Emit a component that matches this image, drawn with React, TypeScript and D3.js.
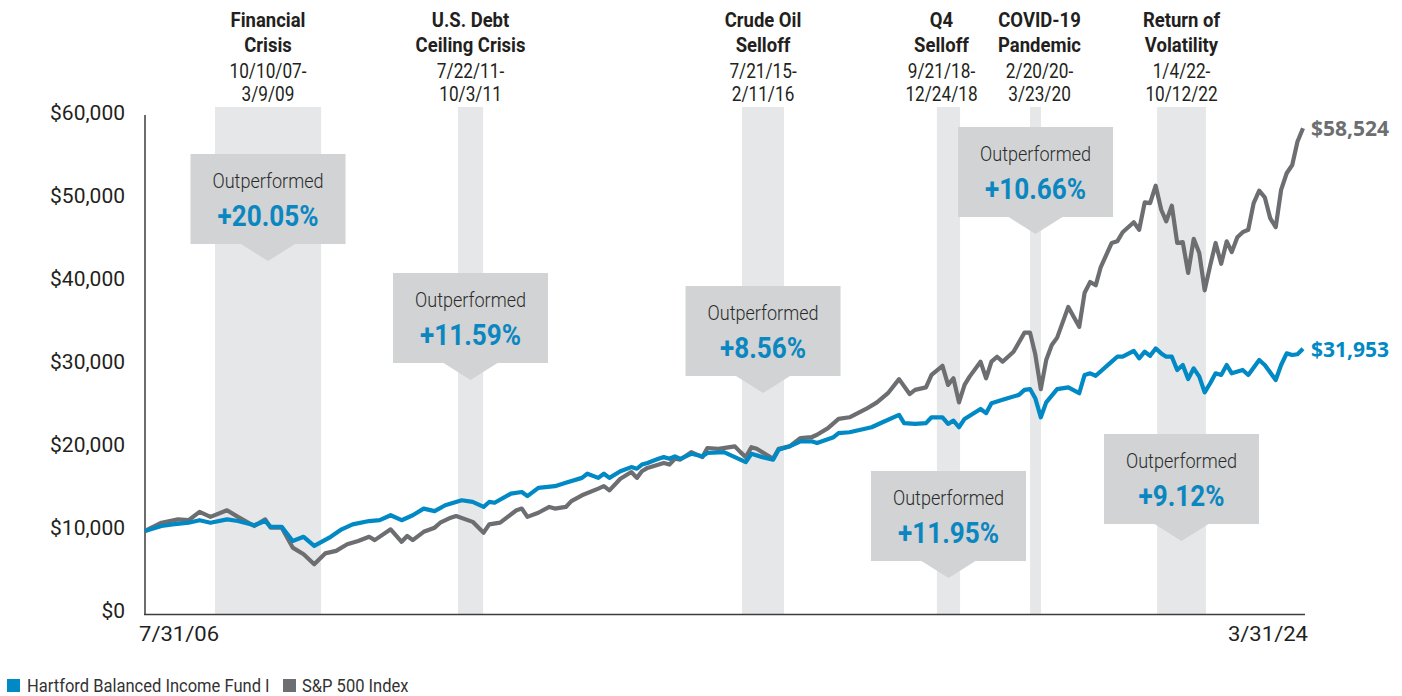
import * as d3 from "d3";
import type { ReactNode } from "react";

// month-end values of a $10,000 investment
const fundSeries: [string, number][] = [
  ["2006-07", 10000], ["2006-10", 10600], ["2006-12", 10800], ["2007-03", 11000],
  ["2007-05", 11300], ["2007-07", 11000], ["2007-10", 11400], ["2007-12", 11200],
  ["2008-03", 10700], ["2008-05", 11200], ["2008-06", 10500], ["2008-08", 10500],
  ["2008-10", 8800], ["2008-12", 9300], ["2009-02", 8200], ["2009-05", 9300],
  ["2009-07", 10200], ["2009-09", 10800], ["2009-12", 11200], ["2010-02", 11300],
  ["2010-04", 11900], ["2010-06", 11300], ["2010-08", 11900], ["2010-10", 12700],
  ["2010-12", 12400], ["2011-02", 13100], ["2011-05", 13700], ["2011-07", 13500],
  ["2011-09", 12900], ["2011-10", 13500], ["2011-11", 13400], ["2012-02", 14500],
  ["2012-04", 14700], ["2012-05", 14200], ["2012-07", 15200], ["2012-10", 15400],
  ["2012-12", 15800], ["2013-03", 16400], ["2013-04", 16900], ["2013-06", 16400],
  ["2013-07", 16900], ["2013-08", 16400], ["2013-10", 17200], ["2013-12", 17700],
  ["2014-01", 17500], ["2014-02", 18000], ["2014-03", 18200], ["2014-05", 18700],
  ["2014-06", 18900], ["2014-07", 18700], ["2014-08", 19000], ["2014-09", 18700],
  ["2014-11", 19300], ["2015-01", 19000], ["2015-02", 19400], ["2015-05", 19500],
  ["2015-07", 18900], ["2015-09", 18300], ["2015-10", 19300], ["2015-12", 18900],
  ["2016-02", 18600], ["2016-03", 19800], ["2016-05", 20200], ["2016-07", 20800],
  ["2016-09", 20800], ["2016-10", 20600], ["2017-01", 21300], ["2017-02", 21800],
  ["2017-04", 21900], ["2017-08", 22500], ["2017-10", 23100], ["2018-01", 24000],
  ["2018-02", 23000], ["2018-04", 22900], ["2018-06", 23000], ["2018-07", 23700],
  ["2018-09", 23700], ["2018-10", 22900], ["2018-11", 23300], ["2018-12", 22500],
  ["2019-01", 23500], ["2019-04", 24700], ["2019-05", 24200], ["2019-06", 25400],
  ["2019-08", 25800], ["2019-11", 26400], ["2019-12", 27000], ["2020-01", 27100],
  ["2020-02", 26000], ["2020-03", 23700], ["2020-04", 25500], ["2020-05", 26300],
  ["2020-06", 27100], ["2020-08", 27300], ["2020-10", 26600], ["2020-11", 28800],
  ["2020-12", 29000], ["2021-01", 28700], ["2021-04", 30400], ["2021-05", 31000],
  ["2021-06", 31000], ["2021-08", 31700], ["2021-09", 30800], ["2021-10", 31600],
  ["2021-11", 31100], ["2021-12", 32000], ["2022-01", 31400], ["2022-02", 31000],
  ["2022-03", 31000], ["2022-04", 29400], ["2022-05", 30000], ["2022-06", 28300],
  ["2022-07", 29600], ["2022-08", 28600], ["2022-09", 26700], ["2022-10", 27800],
  ["2022-11", 29000], ["2022-12", 28800], ["2023-01", 30000], ["2023-02", 29000],
  ["2023-04", 29400], ["2023-05", 28800], ["2023-07", 30600], ["2023-08", 30000],
  ["2023-10", 28200], ["2023-11", 30000], ["2023-12", 31400], ["2024-01", 31200],
  ["2024-02", 31300], ["2024-03", 31953],
];

const indexSeries: [string, number][] = [
  ["2006-07", 10000], ["2006-10", 11000], ["2007-01", 11400], ["2007-03", 11300],
  ["2007-05", 12300], ["2007-07", 11700], ["2007-10", 12500], ["2007-12", 11700],
  ["2008-03", 10600], ["2008-05", 11400], ["2008-06", 10400], ["2008-08", 10400],
  ["2008-10", 8000], ["2008-12", 7200], ["2009-02", 6000], ["2009-04", 7300],
  ["2009-06", 7600], ["2009-08", 8400], ["2009-10", 8800], ["2009-12", 9300],
  ["2010-01", 8900], ["2010-04", 10200], ["2010-06", 8700], ["2010-07", 9400],
  ["2010-08", 8900], ["2010-10", 9900], ["2010-12", 10400], ["2011-01", 11000],
  ["2011-03", 11600], ["2011-04", 11800], ["2011-07", 11100], ["2011-09", 9800],
  ["2011-10", 10800], ["2011-12", 11000], ["2012-03", 12500], ["2012-04", 12700],
  ["2012-05", 11700], ["2012-07", 12200], ["2012-09", 12900], ["2012-10", 12700],
  ["2012-12", 12900], ["2013-01", 13600], ["2013-03", 14300], ["2013-06", 15100],
  ["2013-07", 15400], ["2013-08", 14900], ["2013-10", 16300], ["2013-12", 17100],
  ["2014-01", 16400], ["2014-02", 17200], ["2014-03", 17600], ["2014-06", 18200],
  ["2014-07", 18000], ["2014-08", 18700], ["2014-09", 18600], ["2014-11", 19500],
  ["2015-01", 18900], ["2015-02", 20000], ["2015-04", 19900], ["2015-07", 20200],
  ["2015-08", 19500], ["2015-09", 18900], ["2015-10", 20100], ["2015-11", 19900],
  ["2016-02", 18700], ["2016-03", 19900], ["2016-05", 20200], ["2016-07", 21200],
  ["2016-09", 21300], ["2016-10", 21600], ["2016-12", 22400], ["2017-02", 23500],
  ["2017-04", 23700], ["2017-07", 24700], ["2017-09", 25500], ["2017-11", 26600],
  ["2018-01", 28300], ["2018-03", 26500], ["2018-04", 27000], ["2018-06", 27300],
  ["2018-07", 28800], ["2018-09", 29900], ["2018-10", 27600], ["2018-11", 28400],
  ["2018-12", 25500], ["2019-01", 27600], ["2019-02", 28600], ["2019-04", 30400],
  ["2019-05", 28400], ["2019-06", 30400], ["2019-07", 31000], ["2019-08", 30400],
  ["2019-10", 31600], ["2019-12", 33900], ["2020-01", 33900], ["2020-02", 31300],
  ["2020-03", 27100], ["2020-04", 30600], ["2020-05", 32400], ["2020-06", 33300],
  ["2020-08", 37000], ["2020-09", 35800], ["2020-10", 34600], ["2020-11", 38700],
  ["2020-12", 40000], ["2021-01", 39600], ["2021-02", 41800], ["2021-04", 44700],
  ["2021-05", 44900], ["2021-06", 46000], ["2021-08", 47200], ["2021-09", 46300],
  ["2021-10", 49600], ["2021-11", 49500], ["2021-12", 51600], ["2022-01", 48700],
  ["2022-02", 47300], ["2022-03", 49200], ["2022-04", 44700], ["2022-05", 44800],
  ["2022-06", 41100], ["2022-07", 45200], ["2022-08", 43500], ["2022-09", 39000],
  ["2022-10", 42000], ["2022-11", 44700], ["2022-12", 42200], ["2023-01", 44900],
  ["2023-02", 43600], ["2023-03", 45400], ["2023-04", 46000], ["2023-05", 46300],
  ["2023-06", 49500], ["2023-07", 51000], ["2023-08", 50200], ["2023-09", 47700],
  ["2023-10", 46600], ["2023-11", 51100], ["2023-12", 53100], ["2024-01", 54100],
  ["2024-02", 56900], ["2024-03", 58524],
];

const seriesNames = ["Hartford Balanced Income Fund I", "S&P 500 Index"];
const yTicks = [0, 10000, 20000, 30000, 40000, 50000, 60000];
const xTickLabels = ["7/31/06", "3/31/24"];

const eventTitles = [
  ["Financial", "Crisis"],
  ["U.S. Debt", "Ceiling Crisis"],
  ["Crude Oil", "Selloff"],
  ["Q4", "Selloff"],
  ["COVID-19", "Pandemic"],
  ["Return of", "Volatility"],
];
const eventDates = [
  ["10/10/07-", "3/9/09"],
  ["7/22/11-", "10/3/11"],
  ["7/21/15-", "2/11/16"],
  ["9/21/18-", "12/24/18"],
  ["2/20/20-", "3/23/20"],
  ["1/4/22-", "10/12/22"],
];
// shaded spans as drawn on the chart
const shadeRanges = [
  ["2007-08-25", "2009-04-07"],
  ["2011-05-10", "2011-09-27"],
  ["2015-09-09", "2016-04-30"],
  ["2018-08-30", "2019-01-06"],
  ["2020-01-31", "2020-04-01"],
  ["2022-01-08", "2022-10-07"],
];
const outperformance = ["+20.05%", "+11.59%", "+8.56%", "+11.95%", "+10.66%", "+9.12%"];

// layout
const calloutTop = [154, 273, 286, 471, 127, 434];
const titleNudge = [0, 0, 0, -7, 4, 0];

const W = 1402;
const H = 696;
const BLUE = "#0089c4";
const GRAY = "#6d6e71";
const FONT = "Roboto, sans-serif";

const parseMonth = d3.timeParse("%Y-%m");
const parseDay = d3.timeParse("%Y-%m-%d");
const monthEnd = (s: string) => d3.timeDay.offset(d3.timeMonth.offset(parseMonth(s)!, 1), -1);

// narrow text: no condensed face is installed, so squeeze horizontally
function NText(props: {
  x: number;
  y: number;
  sx?: number;
  size: number;
  weight?: number;
  anchor?: "start" | "middle" | "end";
  fill?: string;
  children: ReactNode;
}) {
  const { x, y, sx = 1, size, weight = 400, anchor = "start", fill = "#231f20", children } = props;
  return (
    <text
      transform={`translate(${x},${y}) scale(${sx},1)`}
      textAnchor={anchor}
      fontFamily={FONT}
      fontSize={size}
      fontWeight={weight}
      fill={fill}
    >
      {children}
    </text>
  );
}

export default function App() {
  const x = d3
    .scaleTime()
    .domain([parseDay("2006-07-31")!, parseDay("2024-03-31")!])
    .range([145, 1303]);
  const y = d3.scaleLinear().domain([0, 60000]).range([614, 116]);

  const line = d3
    .line<[string, number]>()
    .x((d) => x(monthEnd(d[0])))
    .y((d) => y(d[1]));

  const fmt = d3.format("$,");
  const last = (s: [string, number][]) => s[s.length - 1];

  const bands = shadeRanges.map(([a, b]) => ({ x0: x(parseDay(a)!), x1: x(parseDay(b)!) }));

  return (
    <svg
      width={W}
      height={H}
      style={{ position: "absolute", left: 0, top: 0, background: "#fff" }}
    >
      {bands.map((b, i) => (
        <rect key={i} x={b.x0} y={107} width={b.x1 - b.x0} height={614 - 107} fill="#e6e7e8" />
      ))}

      {/* axes */}
      <line x1={145} x2={145} y1={115} y2={615} stroke="#3d3d3d" strokeWidth={1.5} />
      <line x1={144} x2={1305} y1={614.5} y2={614.5} stroke="#3d3d3d" strokeWidth={1.5} />
      {yTicks.map((t) => (
        <NText key={t} x={125} y={y(t) + 4} size={21} anchor="end">
          {fmt(t)}
        </NText>
      ))}
      <NText x={139} y={641} size={21} sx={1.05}>
        {xTickLabels[0]}
      </NText>
      <NText x={1308} y={641} size={21} sx={1.05} anchor="end">
        {xTickLabels[1]}
      </NText>

      {/* lines */}
      <path d={line(indexSeries) || ""} fill="none" stroke={GRAY} strokeWidth={4.2} strokeLinejoin="round" />
      <path d={line(fundSeries) || ""} fill="none" stroke={BLUE} strokeWidth={4.2} strokeLinejoin="round" />

      <text
        x={1311}
        y={y(last(indexSeries)[1]) + 8}
        fontFamily="'Open Sans', sans-serif"
        fontWeight={700}
        fontSize={21}
        fill={GRAY}
      >
        {fmt(last(indexSeries)[1])}
      </text>
      <text
        x={1311}
        y={y(last(fundSeries)[1]) + 8}
        fontFamily="'Open Sans', sans-serif"
        fontWeight={700}
        fontSize={21}
        fill={BLUE}
      >
        {fmt(last(fundSeries)[1])}
      </text>

      {/* event headers */}
      {bands.map((b, i) => {
        const cx = (b.x0 + b.x1) / 2 + titleNudge[i];
        return (
          <g key={i}>
            <NText x={cx} y={27} size={21} weight={700} sx={0.88} anchor="middle">
              {eventTitles[i][0]}
            </NText>
            <NText x={cx} y={52} size={21} weight={700} sx={0.88} anchor="middle">
              {eventTitles[i][1]}
            </NText>
            <NText x={cx} y={78} size={21} sx={0.82} anchor="middle">
              {eventDates[i][0]}
            </NText>
            <NText x={cx} y={101} size={21} sx={0.82} anchor="middle">
              {eventDates[i][1]}
            </NText>
          </g>
        );
      })}

      {/* callouts */}
      {bands.map((b, i) => {
        const cx = (b.x0 + b.x1) / 2;
        const top = calloutTop[i];
        const bw = 155;
        const bh = 90;
        return (
          <g key={i}>
            <rect x={cx - bw / 2} y={top} width={bw} height={bh} fill="#d1d3d4" />
            <path
              d={`M${cx - 27},${top + bh} L${cx + 27},${top + bh} L${cx},${top + bh + 17} Z`}
              fill="#d1d3d4"
            />
            <NText x={cx} y={top + 34} size={21} weight={300} sx={0.86} anchor="middle" fill="#2b2b2b">
              Outperformed
            </NText>
            <NText x={cx} y={top + 72} size={29} weight={700} sx={0.9} anchor="middle" fill="#0a86c0">
              {outperformance[i]}
            </NText>
          </g>
        );
      })}

      {/* legend */}
      <rect x={7} y={679} width={13} height={13} fill={BLUE} />
      <NText x={27} y={692} size={19} sx={0.87} fill="#333">
        {seriesNames[0]}
      </NText>
      <rect x={283} y={679} width={13} height={13} fill={GRAY} />
      <NText x={302} y={692} size={19} sx={0.87} fill="#333">
        {seriesNames[1]}
      </NText>
    </svg>
  );
}
